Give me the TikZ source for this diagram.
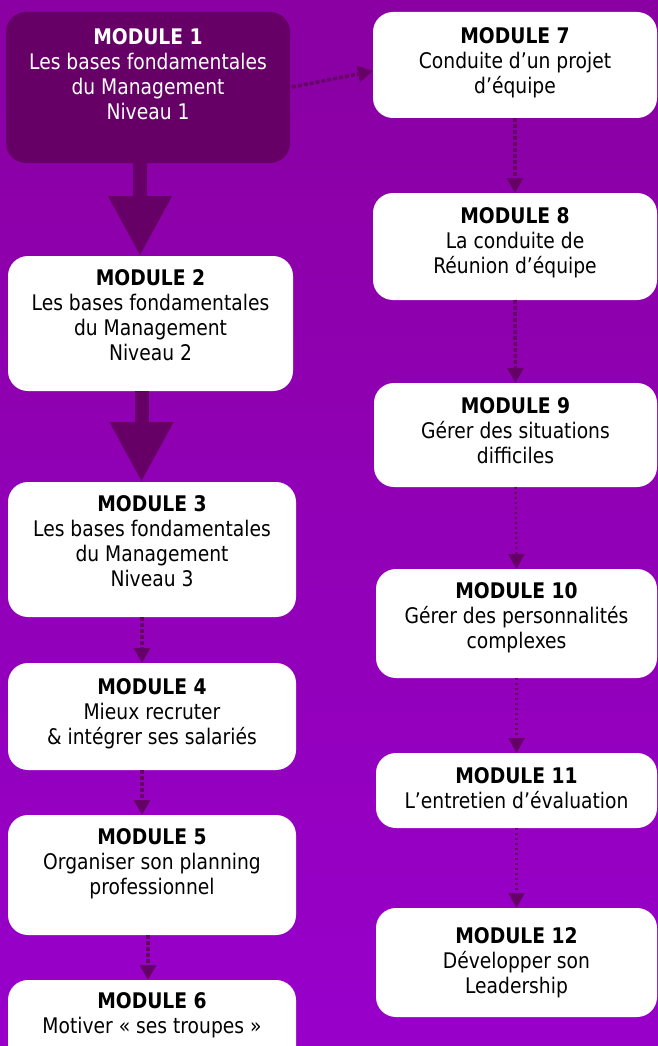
\documentclass[tikz,border=0pt]{standalone}
\usepackage{fontspec}
\setmainfont{DejaVu Sans}[FakeStretch=0.87]
\usetikzlibrary{positioning,arrows.meta}

\definecolor{bgtop}{HTML}{8A00A2}
\definecolor{bgbot}{HTML}{9800CA}
\definecolor{plum}{HTML}{660066}

\tikzset{
  modbox/.style={fill=white, rounded corners=20pt, anchor=north west, inner sep=0pt, outer sep=0pt},
  modtext/.style={align=center, inner sep=0pt, font=\fontsize{21.5}{25}\selectfont},
  bigarrow/.style={draw=plum, line width=14pt, -{Triangle[width=60pt,length=60pt]}},
  dasharrow/.style={draw=plum, line width=3.5pt, dash pattern=on 4pt off 2pt, -{Triangle[width=16pt,length=15pt]}},
  dotarrow/.style={draw=plum, line width=2.5pt, dash pattern=on 2pt off 3pt, -{Triangle[width=16pt,length=15pt]}}
}

\begin{document}
\begin{tikzpicture}[x=1pt, y=-1pt]
    % Fond
    \useasboundingbox (0,0) rectangle (658,1046);
    \clip (0,0) rectangle (658,1046);
    \shade[top color=bgtop, bottom color=bgbot] (0,0) rectangle (658,1046);

    % Colonne gauche
    \node[modbox, fill=plum, minimum width=284pt, minimum height=151pt] (m1) at (6,12) {};
    \node[modbox, minimum width=285pt, minimum height=135pt] (m2) at (8,256) {};
    \node[modbox, minimum width=288pt, minimum height=135pt] (m3) at (8,482) {};
    \node[modbox, minimum width=288pt, minimum height=107pt] (m4) at (8,663) {};
    \node[modbox, minimum width=288pt, minimum height=120pt] (m5) at (8,815) {};
    \node[modbox, minimum width=288pt, minimum height=95pt] (m6) at (8,980) {};

    % Colonne droite
    \node[modbox, minimum width=284pt, minimum height=106pt] (m7) at (373,12) {};
    \node[modbox, minimum width=284pt, minimum height=107pt] (m8) at (373,193) {};
    \node[modbox, minimum width=283pt, minimum height=104pt] (m9) at (374,383) {};
    \node[modbox, minimum width=281pt, minimum height=109pt] (m10) at (376,569) {};
    \node[modbox, minimum width=281pt, minimum height=75pt] (m11) at (376,753) {};
    \node[modbox, minimum width=281pt, minimum height=109pt] (m12) at (376,908) {};

    % Textes
    \node[modtext, text=white, below=16pt of m1.north] (t1) {\textbf{MODULE 1}\\Les bases fondamentales\\du Management\\Niveau 1};
    \node[modtext, below=13pt of m2.north] (t2) {\textbf{MODULE 2}\\Les bases fondamentales\\du Management\\Niveau 2};
    \node[modtext, below=13pt of m3.north] (t3) {\textbf{MODULE 3}\\Les bases fondamentales\\du Management\\Niveau 3};
    \node[modtext, below=15pt of m4.north] (t4) {\textbf{MODULE 4}\\Mieux recruter\\\& intégrer ses salariés};
    \node[modtext, below=13pt of m5.north] (t5) {\textbf{MODULE 5}\\Organiser son planning\\professionnel};
    \node[modtext, below=12pt of m6.north] (t6) {\textbf{MODULE 6}\\Motiver « ses troupes »};
    \node[modtext, below=15pt of m7.north] (t7) {\textbf{MODULE 7}\\Conduite d’un projet\\d’équipe};
    \node[modtext, below=14pt of m8.north] (t8) {\textbf{MODULE 8}\\La conduite de\\Réunion d’équipe};
    \node[modtext, below=14pt of m9.north] (t9) {\textbf{MODULE 9}\\Gérer des situations\\difficiles};
    \node[modtext, below=13pt of m10.north] (t10) {\textbf{MODULE 10}\\Gérer des personnalités\\complexes};
    \node[modtext, below=14pt of m11.north] (t11) {\textbf{MODULE 11}\\L’entretien d’évaluation};
    \node[modtext, below=19pt of m12.north] (t12) {\textbf{MODULE 12}\\Développer son\\Leadership};

    % Flèches
    \draw[bigarrow] ([xshift=-8pt]m1.south) -- ([xshift=-8pt]m1.south |- m2.north);
    \draw[bigarrow] ([xshift=-9pt]m2.south) -- ([xshift=-9pt]m2.south |- m3.north);
    \draw[dasharrow] ([xshift=-10pt]m3.south) -- ([xshift=-10pt]m3.south |- m4.north);
    \draw[dasharrow] ([xshift=-10pt]m4.south) -- ([xshift=-10pt]m4.south |- m5.north);
    \draw[dasharrow] ([xshift=-4pt]m5.south) -- ([xshift=-4pt]m5.south |- m6.north);
    \draw[dasharrow, shorten <=2pt] (m1.east) -- ([yshift=-6pt]m7.west);
    \draw[dasharrow] (m7.south) -- (m8.north);
    \draw[dasharrow] (m8.south) -- (m9.north);
    \draw[dotarrow] (m9.south) -- (m10.north);
    \draw[dotarrow] (m10.south) -- (m11.north);
    \draw[dotarrow] (m11.south) -- (m12.north);
\end{tikzpicture}
\end{document}
